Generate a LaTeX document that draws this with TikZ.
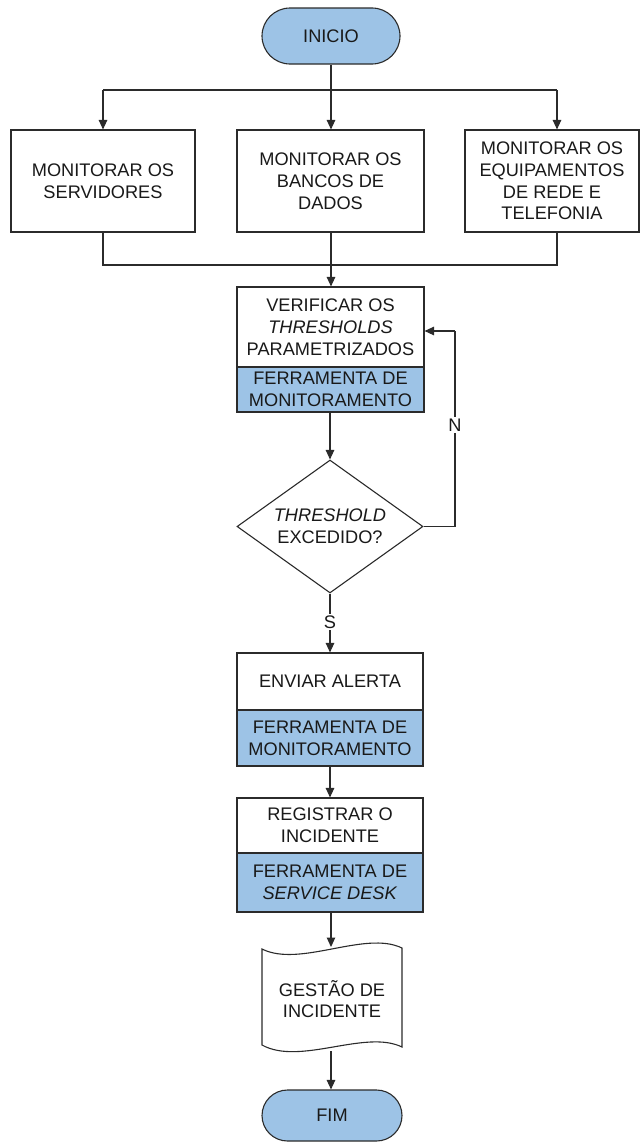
\documentclass[tikz,border=0pt]{standalone}
\usepackage{fontspec}
\setmainfont{Liberation Sans}
\usetikzlibrary{arrows.meta,shapes.geometric}
\definecolor{fillblue}{HTML}{9DC3E6}
\definecolor{linec}{HTML}{2B2B2B}
\begin{document}
\begin{tikzpicture}[x=1pt,y=-1pt,
  every node/.style={font=\fontsize{18.2}{21.8}\selectfont, align=center, inner sep=0pt, text=black!90},
  line/.style={draw=linec, line width=1.1pt},
  arr/.style={line, -{Triangle[length=9.5pt,width=8.5pt]}},
  proc/.style={rectangle, draw=linec, line width=1.1pt, fill=white},
  tool/.style={rectangle, draw=linec, line width=1.1pt, fill=fillblue},
  term/.style={rectangle, rounded corners=#1, draw=linec, line width=1.1pt, fill=fillblue},
  dec/.style={diamond, shape aspect=1.4, draw=linec, line width=1.1pt, fill=white},
  lbl/.style={fill=white, inner sep=2pt}
]
\useasboundingbox (0,0) rectangle (641,1143);

% terminal
\node[term=28pt, minimum width=138pt, minimum height=56pt] (inicio) at (331,36) {INICIO};

% three monitoring boxes
\node[proc, minimum width=184pt, minimum height=102pt] (b1) at (103,181) {MONITORAR OS\\SERVIDORES};
\node[proc, minimum width=187pt, minimum height=102pt] (b2) at (330.5,181) {MONITORAR OS\\BANCOS DE\\DADOS};
\node[proc, minimum width=174pt, minimum height=102pt] (b3) at (552,181) {MONITORAR OS\\EQUIPAMENTOS\\DE REDE E\\TELEFONIA};

\coordinate (s1) at (103,90);
\coordinate (s2) at (331,90);
\coordinate (s3) at (557,90);
\coordinate (m1) at (103,265);
\coordinate (m2) at (331,265);
\coordinate (m3) at (557,265);

\draw[line] (inicio.south) -- (s2);
\draw[line] (s1) -- (s3);
\draw[arr] (s1) -- (s1 |- b1.north);
\draw[arr] (s2) -- (s2 |- b2.north);
\draw[arr] (s3) -- (s3 |- b3.north);

\draw[line] (m1 |- b1.south) -- (m1) -- (m3) -- (m3 |- b3.south);

% verify
\node[proc, minimum width=187pt, minimum height=80pt] (v1) at (330.5,327) {VERIFICAR OS\\\textit{THRESHOLDS}\\PARAMETRIZADOS};
\node[tool, minimum width=187pt, minimum height=45pt] (v2) at (330.5,389.5) {FERRAMENTA DE\\MONITORAMENTO};
\draw[arr] (m2 |- b2.south) -- (v1.north -| m2);

% decision
\node[dec, minimum width=186pt, minimum height=133pt] (d) at (330,526.5) {\textit{THRESHOLD}\\EXCEDIDO?};
\draw[arr] (v2.south -| d.north) -- (d.north);

\coordinate (n1) at (455,526.5);
\coordinate (n2) at (455,331);
\draw[line] (d.east) -- (n1) -- (n2);
\draw[arr] (n2) -- (v1.east |- n2);
\node[lbl] (nlab) at (455,425) {N};

% send alert
\node[proc, minimum width=186pt, minimum height=57pt] (e1) at (330,681.5) {ENVIAR ALERTA};
\node[tool, minimum width=186pt, minimum height=56pt] (e2) at (330,738) {FERRAMENTA DE\\MONITORAMENTO};
\draw[arr] (d.south) -- (e1.north);
\node[lbl] (slab) at (330,622) {S};

% register
\node[proc, minimum width=186pt, minimum height=55pt] (r1) at (330,825.5) {REGISTRAR O\\INCIDENTE};
\node[tool, minimum width=186pt, minimum height=59pt] (r2) at (330,882.5) {FERRAMENTA DE\\\textit{SERVICE DESK}};
\draw[arr] (e2.south) -- (r1.north);

% document (tape)
\draw[line, fill=white] (262,949) .. controls (300,968) and (365,930) .. (402,948)
  -- (402,1047) .. controls (365,1029) and (300,1066) .. (262,1045) -- cycle;
\node (doc) at (332,999) {GESTÃO DE\\INCIDENTE};
\coordinate (doctop) at (331,947);
\coordinate (docbot) at (331,1051);
\draw[arr] (r2.south -| doctop) -- (doctop);

% end
\node[term=25.5pt, minimum width=140pt, minimum height=51pt] (fim) at (332,1115.5) {FIM};
\draw[arr] (docbot) -- (fim.north -| docbot);

\end{tikzpicture}
\end{document}
